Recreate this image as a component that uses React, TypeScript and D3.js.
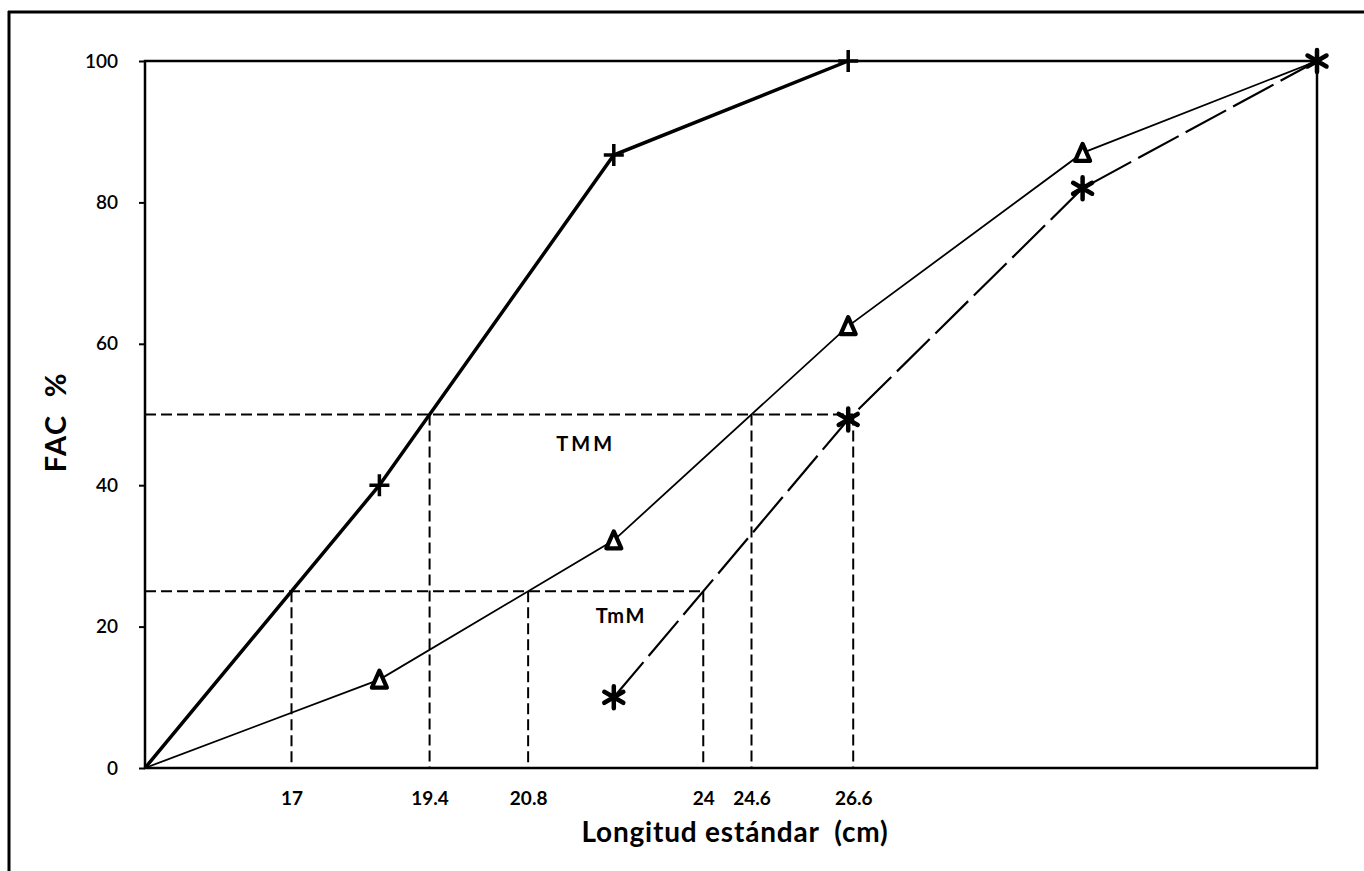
import * as d3 from "d3";
import { useEffect, useRef } from "react";

// clases de longitud (indice de la clase, espaciado regular en el eje)
const plusClasses = [0, 1, 2, 3];
const plusValues = [0, 40, 86.7, 100];
const triClasses = [0, 1, 2, 3, 4, 5];
const triValues = [0, 12.5, 32.2, 62.5, 87, 100];
const starClasses = [2, 3, 4, 5];
const starValues = [10, 49.3, 82, 100];

const yTicks = [0, 20, 40, 60, 80, 100];

// cortes con 25 % (TmM) y 50 % (TMM)
const crossSeries = ["plus", "plus", "tri", "star", "tri", "star"];
const crossLevels = [25, 50, 25, 25, 50, 50];
const crossLabels = ["17", "19.4", "20.8", "24", "24.6", "26.6"];

const notes = ["TMM", "TmM"];
const noteClass = [1.88, 2.03];
const noteValue = [46, 21.6];

const W = 1364;
const H = 871;
const FONT = "Lato, 'DejaVu Sans', sans-serif";

function crossing(xs: number[], ys: number[], level: number): number {
    for (let i = 0; i < xs.length - 1; i++) {
        if (ys[i] <= level && ys[i + 1] >= level) {
            return xs[i] + ((level - ys[i]) / (ys[i + 1] - ys[i])) * (xs[i + 1] - xs[i]);
        }
    }
    return xs[xs.length - 1];
}

export default function App() {
    const ref = useRef<SVGSVGElement | null>(null);

    useEffect(() => {
        const svg = d3.select(ref.current);
        svg.selectAll("*").remove();

        const x = d3.scaleLinear([0, 5], [145, 1317]);
        const y = d3.scaleLinear([0, 100], [768, 61]);

        const series: { [k: string]: { xs: number[]; ys: number[] } } = {
            plus: { xs: plusClasses, ys: plusValues },
            tri: { xs: triClasses, ys: triValues },
            star: { xs: starClasses, ys: starValues },
        };

        // marco exterior de la figura
        svg.append("line").attr("x1", 8).attr("x2", W).attr("y1", 12).attr("y2", 12)
            .attr("stroke", "#000").attr("stroke-width", 3);
        svg.append("line").attr("x1", 9).attr("x2", 9).attr("y1", 11).attr("y2", H)
            .attr("stroke", "#000").attr("stroke-width", 3);

        // marco del grafico
        svg.append("rect")
            .attr("x", x(0)).attr("y", y(100))
            .attr("width", x(5) - x(0)).attr("height", y(0) - y(100))
            .attr("fill", "none").attr("stroke", "#000").attr("stroke-width", 2.5);

        // eje Y
        const yAxis = svg.append("g")
            .attr("transform", `translate(${x(0)},0)`)
            .call(d3.axisLeft(y).tickValues(yTicks).tickSize(6).tickPadding(21));
        yAxis.select(".domain").remove();
        yAxis.selectAll("line").attr("stroke-width", 2);
        yAxis.selectAll("text")
            .attr("font-family", FONT).attr("font-size", 19)
            .attr("font-weight", 600).attr("fill", "#000");

        // cortes
        const crossX = crossSeries.map((s, i) =>
            crossing(series[s].xs, series[s].ys, crossLevels[i]));

        const xAxis = svg.append("g")
            .attr("transform", `translate(0,${y(0)})`)
            .call(d3.axisBottom(x).tickValues(crossX)
                .tickFormat((_, i) => crossLabels[i]).tickSize(0).tickPadding(24));
        xAxis.select(".domain").remove();
        xAxis.selectAll("text")
            .attr("font-family", FONT).attr("font-size", 19)
            .attr("font-weight", "bold").attr("fill", "#000");

        // lineas de referencia punteadas
        const dashes = svg.append("g")
            .attr("stroke", "#000").attr("stroke-width", 2)
            .attr("stroke-dasharray", "11 5").attr("fill", "none");
        d3.group(crossX.map((cx, i) => ({ cx, level: crossLevels[i] })), (d) => d.level)
            .forEach((list, level) => {
                const maxX = d3.max(list, (d) => d.cx) ?? 0;
                dashes.append("line")
                    .attr("x1", x(0)).attr("x2", x(maxX))
                    .attr("y1", y(level)).attr("y2", y(level));
            });
        crossX.forEach((cx, i) => {
            dashes.append("line")
                .attr("x1", x(cx)).attr("x2", x(cx))
                .attr("y1", y(crossLevels[i])).attr("y2", y(0));
        });

        const line = d3.line<[number, number]>()
            .x((d) => x(d[0])).y((d) => y(d[1]));
        const pts = (s: string) =>
            series[s].xs.map((v, i) => [v, series[s].ys[i]] as [number, number]);

        svg.append("path").attr("d", line(pts("plus")))
            .attr("fill", "none").attr("stroke", "#000").attr("stroke-width", 3.5);
        svg.append("path").attr("d", line(pts("tri")))
            .attr("fill", "none").attr("stroke", "#000").attr("stroke-width", 1.8);
        svg.append("path").attr("d", line(pts("star")))
            .attr("fill", "none").attr("stroke", "#000").attr("stroke-width", 2.2)
            .attr("stroke-dasharray", "46 8");

        // marcadores +
        svg.append("g").selectAll("path")
            .data(pts("plus").filter((d) => d[1] > 0))
            .join("path")
            .attr("transform", (d) => `translate(${x(d[0])},${y(d[1])})`)
            .attr("d", "M-10,0H10M0,-11V11")
            .attr("stroke", "#000").attr("stroke-width", 3.5);

        // marcadores triangulo (el ultimo queda bajo el asterisco)
        const starPts = pts("star");
        svg.append("g").selectAll("path")
            .data(pts("tri").filter((d) => d[1] > 0 &&
                !starPts.some((s) => s[0] === d[0] && s[1] === d[1])))
            .join("path")
            .attr("transform", (d) => `translate(${x(d[0])},${y(d[1])})`)
            .attr("d", "M0,-9L7.5,8L-7.5,8Z")
            .attr("fill", "#fff").attr("stroke", "#000")
            .attr("stroke-width", 4.2).attr("stroke-linejoin", "round");

        // marcadores asterisco
        svg.append("g").selectAll("path")
            .data(starPts)
            .join("path")
            .attr("transform", (d) => `translate(${x(d[0])},${y(d[1])})`)
            .attr("d", "M0,-11V11M-9.5,-5.5L9.5,5.5M-9.5,5.5L9.5,-5.5")
            .attr("stroke", "#000").attr("stroke-width", 4.5).attr("stroke-linecap", "round");

        // anotaciones
        svg.append("g").selectAll("text")
            .data(notes)
            .join("text")
            .attr("x", (_, i) => x(noteClass[i]))
            .attr("y", (_, i) => y(noteValue[i]))
            .attr("text-anchor", "middle").attr("dominant-baseline", "central")
            .attr("font-family", FONT).attr("font-size", 20).attr("font-weight", "bold")
            .attr("letter-spacing", (_, i) => (i === 0 ? 3 : 1.5))
            .text((d) => d);

        // titulos de ejes
        svg.append("text")
            .attr("x", 735).attr("y", 842)
            .attr("text-anchor", "middle")
            .attr("font-family", FONT).attr("font-size", 28).attr("font-weight", "bold")
            .attr("letter-spacing", 0.8)
            .style("white-space", "pre")
            .text("Longitud estándar  (cm)");
        svg.append("text")
            .attr("transform", "translate(54,422) rotate(-90)")
            .attr("text-anchor", "middle").attr("dominant-baseline", "central")
            .attr("font-family", FONT).attr("font-size", 29).attr("font-weight", "bold")
            .attr("letter-spacing", 1.5)
            .style("white-space", "pre")
            .text("FAC  %");
    }, []);

    return (
        <svg
            ref={ref}
            width={W}
            height={H}
            style={{ position: "absolute", left: 0, top: 0, background: "#fff" }}
        />
    );
}
